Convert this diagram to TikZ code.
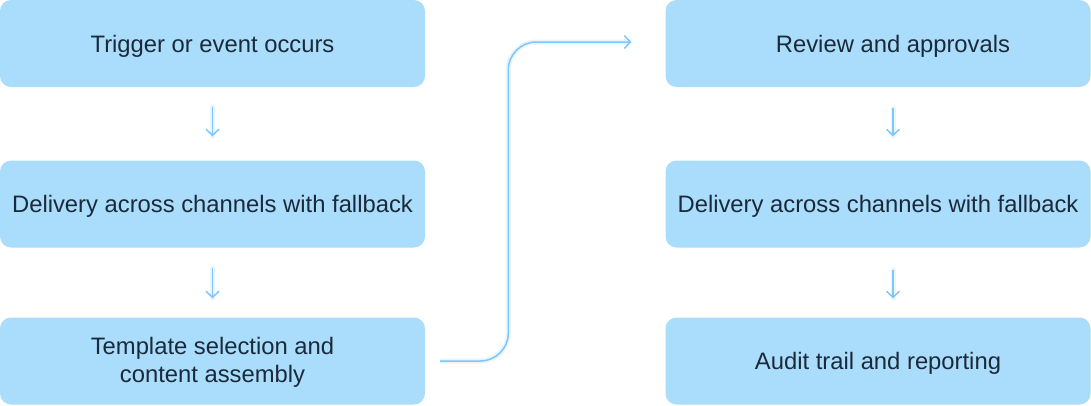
\documentclass[tikz,border=0pt]{standalone}
\usepackage{fontspec}
\setmainfont{Liberation Sans}
\usetikzlibrary{arrows.meta,calc}
\definecolor{boxfill}{HTML}{AADCFC}
\definecolor{txt}{HTML}{1B2A3A}
\definecolor{line}{HTML}{80C6FA}
\definecolor{glow}{HTML}{D8EEFE}
\tikzset{
  stepbox/.style={draw=none, fill=boxfill, rounded corners=11pt, minimum width=425pt, minimum height=87pt, inner sep=0pt, text=txt, font=\fontsize{23.8pt}{28.5pt}\selectfont, align=center},
  oneline/.style={text height=22.5pt, text depth=5.5pt},
  flow/.style={draw=line, line width=1.5pt, -{Straight Barb[length=6pt,width=13pt,line width=1.5pt]}},
  halo/.style={draw=glow, line width=5pt, opacity=0.6},
}
\begin{document}
\begin{tikzpicture}[x=1pt,y=-1pt]
\useasboundingbox (0,0) rectangle (1091,405);
\node[stepbox,oneline] (a1) at (212.5,43.5) {Trigger or event occurs};
\node[stepbox,oneline] (a2) at (212.5,204) {Delivery across channels with fallback};
\node[stepbox] (a3) at (212.5,361) {\rule{0pt}{20pt}Template selection and\\content assembly};
\node[stepbox,oneline] (b1) at (878,43.5) {\hspace*{30pt}Review and approvals};
\node[stepbox,oneline] (b2) at (878,204) {Delivery across channels with fallback};
\node[stepbox,oneline] (b3) at (878,361) {Audit trail and reporting};
% small down arrows
\coordinate (s1) at ($(a1.south)+(0,20)$);
\coordinate (e1) at ($(a2.north)+(0,-24)$);
\coordinate (s2) at ($(a2.south)+(0,20)$);
\coordinate (e2) at ($(a3.north)+(0,-19)$);
\coordinate (s3) at ($(b1.south)+(15,21)$);
\coordinate (e3) at ($(b2.north)+(15,-24)$);
\coordinate (s4) at ($(b2.south)+(15,22)$);
\coordinate (e4) at ($(b3.north)+(15,-19)$);
\foreach \s/\e in {s1/e1,s2/e2,s3/e3,s4/e4}{
  \draw[halo,line cap=round] (\s) -- (\e);
  \draw[flow] (\s) -- (\e);
}
% long connector
\coordinate (c1) at ($(a3.east)+(15,0)$);
\coordinate (c2) at ($(b1.west)+(-34,-1.5)$);
\draw[halo,rounded corners=28pt] (c1) -| ([xshift=-123pt]c2) -- (c2);
\draw[flow,rounded corners=28pt] (c1) -| ([xshift=-123pt]c2) -- (c2);
\end{tikzpicture}
\end{document}
